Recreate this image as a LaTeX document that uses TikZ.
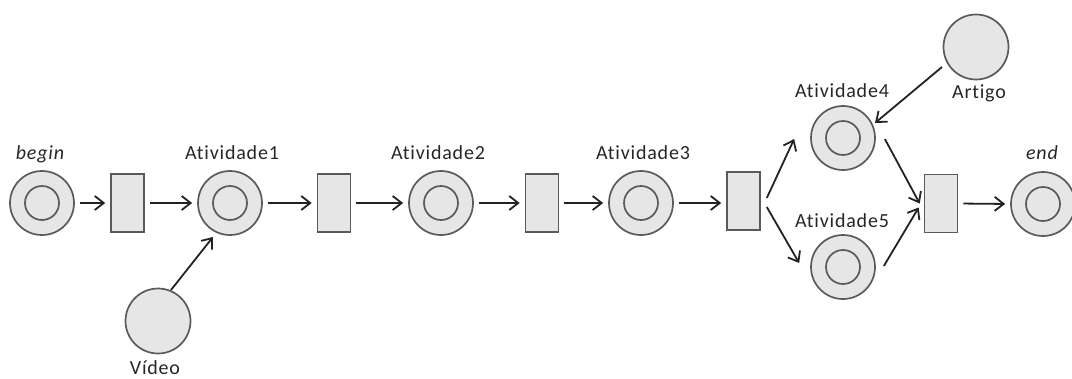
\documentclass[tikz,border=0pt]{standalone}
\usepackage{fontspec}
\setmainfont{Carlito}
\newfontfamily\lblfont[LetterSpace=4,RawFeature={-liga;-clig;-dlig}]{Carlito}
\usetikzlibrary{arrows.meta}
\definecolor{pfill}{HTML}{E6E6E6}
\definecolor{pline}{HTML}{5A5A5A}
\definecolor{aline}{HTML}{222222}
\tikzset{
  place/.style={circle, draw=pline, fill=pfill, line width=1.7pt, minimum size=64pt, inner sep=0pt,
    path picture={\draw[pline, line width=1.7pt] (path picture bounding box.center) circle (17pt);}},
  res/.style={circle, draw=pline, fill=pfill, line width=1.7pt, minimum size=65pt, inner sep=0pt},
  trans/.style={rectangle, draw=pline, fill=pfill, line width=1.6pt, minimum width=33pt, minimum height=58pt, inner sep=0pt},
  lbl/.style={anchor=base, inner sep=0pt, font=\lblfont\fontsize{20}{22}\selectfont, text=black!85},
  arr/.style={draw=aline, line width=1.8pt, -{Straight Barb[length=9pt,width=14pt,line width=1.8pt]}, shorten <=5pt, shorten >=5pt}
}
\begin{document}
\begin{tikzpicture}[x=1pt,y=-1pt]
\useasboundingbox (0,0) rectangle (1072,378);
% places
\node[place] (begin) at (42,203) {};
\node[place] (a1) at (230,203) {};
\node[place] (a2) at (441,203) {};
\node[place] (a3) at (641,203) {};
\node[place] (a4) at (843,138) {};
\node[place] (a5) at (843,267) {};
\node[place] (end) at (1043,204) {};
\node[res] (video) at (158,321) {};
\node[res] (artigo) at (976,47) {};
% transitions
\node[trans] (r1) at (127.5,203) {};
\node[trans] (r2) at (334,203) {};
\node[trans] (r3) at (542,203) {};
\node[trans] (r4) at (743.5,201) {};
\node[trans] (r5) at (941,203.5) {};
% labels
\node[lbl] (lbegin) at (40,159) {\itshape begin};
\node[lbl] (la1) at (232,159) {Atividade1};
\node[lbl] (la2) at (438,159) {Atividade2};
\node[lbl] (la3) at (643,159) {Atividade3};
\node[lbl] (la4) at (842,97) {Atividade4};
\node[lbl] (la5) at (842,227) {Atividade5};
\node[lbl] (lend) at (1042,159) {\itshape end};
\node[lbl] (lvideo) at (155,374) {Vídeo};
\node[lbl] (lartigo) at (979,98) {Artigo};
% arcs
\draw[arr] (begin.east) -- (r1.west);
\draw[arr] (r1.east) -- (a1.west);
\draw[arr] (a1.east) -- (r2.west);
\draw[arr] (r2.east) -- (a2.west);
\draw[arr] (a2.east) -- (r3.west);
\draw[arr] (r3.east) -- (a3.west);
\draw[arr] (a3.east) -- (r4.west |- a3.east);
\draw[arr] (r5.east) -- (end.west);
\draw[arr, shorten <=0pt, shorten >=0pt] ([shift={(13,-31)}]video.center) -- ([shift={(-17,34)}]a1.center);
\draw[arr, shorten <=0pt, shorten >=0pt] ([shift={(-34,20)}]artigo.center) -- ([shift={(32,-15)}]a4.center);
\draw[arr, shorten <=0pt, shorten >=0pt] ([shift={(6,-3)}]r4.east) -- ([shift={(-16,1)}]a4.west);
\draw[arr, shorten <=0pt, shorten >=0pt] ([shift={(6,6)}]r4.east) -- ([shift={(-11,-4)}]a5.west);
\draw[arr, shorten <=0pt, shorten >=0pt] ([shift={(9,1)}]a4.east) -- ([shift={(-4,0)}]r5.west);
\draw[arr, shorten <=0pt, shorten >=0pt] ([shift={(8,-1)}]a5.east) -- ([shift={(-5,4)}]r5.west);
\end{tikzpicture}
\end{document}
